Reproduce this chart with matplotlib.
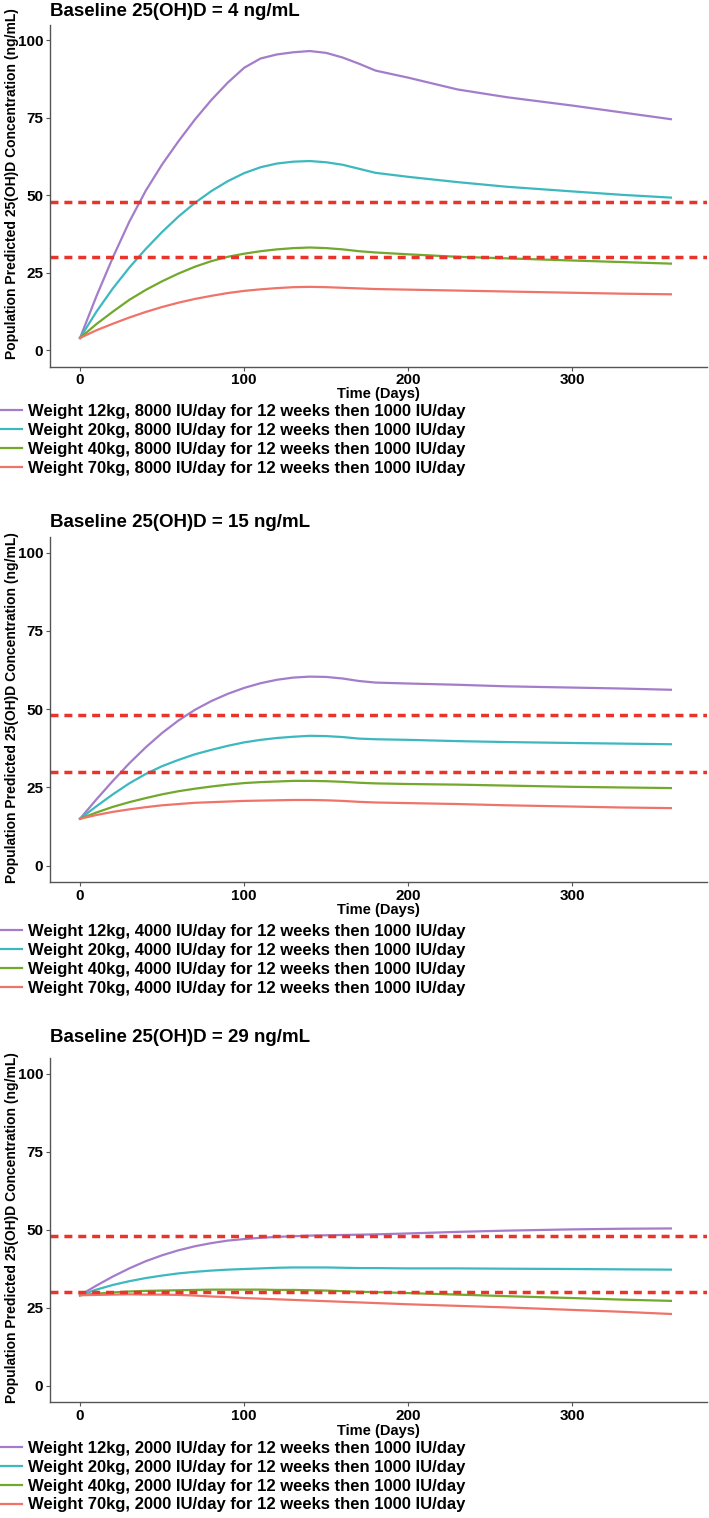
import numpy as np
import matplotlib
matplotlib.use("Agg")
import matplotlib.pyplot as plt

plt.rcParams['font.family'] = ['Liberation Sans', 'DejaVu Sans']
plt.rcParams['font.weight'] = 'bold'

# time points (days)
days = [0, 10, 20, 30, 40, 50, 60, 70, 80, 90, 100, 110, 120, 130, 140,
        150, 160, 170, 180, 200, 230, 260, 300, 330, 360]

weights = [12, 20, 40, 70]
loading_doses = [8000, 4000, 2000]
baselines = [4, 15, 29]

# baseline 4 ng/mL, 8000 IU/day
b4_w12 = [4, 17.5, 30, 41.5, 51.5, 60, 67.5, 74.5, 80.8, 86.4, 91.2, 94.2, 95.5, 96.2, 96.6,
          96, 94.5, 92.5, 90.3, 88, 84.2, 81.7, 79, 76.8, 74.6]
b4_w20 = [4, 12.5, 20, 26.7, 32.7, 38.2, 43.2, 47.6, 51.4, 54.6, 57.2, 59.1, 60.3, 60.9, 61.1,
          60.7, 59.9, 58.6, 57.3, 56, 54.3, 52.8, 51.3, 50.2, 49.3]
b4_w40 = [4, 8.5, 12.5, 16.3, 19.5, 22.3, 24.8, 27, 28.8, 30.2, 31.2, 32, 32.6, 33, 33.2,
          33, 32.6, 32, 31.6, 31, 30.2, 29.7, 29, 28.5, 28]
b4_w70 = [4, 6.5, 8.6, 10.6, 12.4, 14, 15.4, 16.6, 17.6, 18.5, 19.2, 19.7, 20.1, 20.4, 20.5,
          20.4, 20.2, 20, 19.8, 19.6, 19.3, 19, 18.6, 18.3, 18.1]

# baseline 15 ng/mL, 4000 IU/day
b15_w12 = [15, 21.2, 27.1, 32.7, 37.8, 42.4, 46.4, 49.8, 52.6, 54.9, 56.8, 58.3, 59.4, 60.1, 60.4,
           60.3, 59.8, 59, 58.5, 58.2, 57.8, 57.3, 56.9, 56.6, 56.2]
b15_w20 = [15, 19, 22.8, 26.3, 29.3, 31.8, 33.8, 35.6, 37, 38.3, 39.4, 40.2, 40.8, 41.2, 41.5,
           41.4, 41.1, 40.6, 40.4, 40.2, 39.8, 39.5, 39.2, 39, 38.8]
b15_w40 = [15, 17, 18.8, 20.3, 21.6, 22.8, 23.8, 24.6, 25.3, 25.9, 26.4, 26.7, 26.9, 27.1, 27.1,
           27, 26.8, 26.5, 26.3, 26.1, 25.9, 25.6, 25.2, 25, 24.8]
b15_w70 = [15, 16.2, 17.2, 18, 18.7, 19.3, 19.7, 20.1, 20.3, 20.5, 20.7, 20.8, 20.9, 21, 21,
           20.9, 20.7, 20.4, 20.2, 20, 19.7, 19.3, 18.9, 18.6, 18.4]

# baseline 29 ng/mL, 2000 IU/day
b29_w12 = [29, 32.1, 35, 37.6, 39.9, 41.8, 43.4, 44.7, 45.7, 46.5, 47, 47.4, 47.7, 47.9, 48.1,
           48.2, 48.3, 48.4, 48.5, 48.8, 49.3, 49.7, 50.1, 50.3, 50.4]
b29_w20 = [29, 30.8, 32.3, 33.5, 34.5, 35.3, 36, 36.5, 36.9, 37.2, 37.4, 37.6, 37.8, 37.9, 37.9,
           37.9, 37.8, 37.7, 37.7, 37.6, 37.6, 37.5, 37.4, 37.3, 37.2]
b29_w40 = [29, 29.5, 29.9, 30.2, 30.4, 30.5, 30.6, 30.7, 30.8, 30.8, 30.8, 30.8, 30.7, 30.7, 30.6,
           30.5, 30.3, 30.1, 30, 29.7, 29.2, 28.7, 28.1, 27.6, 27.2]
b29_w70 = [29, 29.1, 29.2, 29.3, 29.2, 29.2, 29.1, 28.9, 28.6, 28.4, 28.1, 27.9, 27.7, 27.5, 27.3,
           27.1, 26.9, 26.7, 26.5, 26.1, 25.6, 25.1, 24.3, 23.7, 23.0]

targets = [30, 48]

panels = [
    [b4_w12, b4_w20, b4_w40, b4_w70],
    [b15_w12, b15_w20, b15_w40, b15_w70],
    [b29_w12, b29_w20, b29_w40, b29_w70],
]
colors = ['#A47DCA', '#3DB8BF', '#72A82C', '#EE746A']

W, H = 709, 1518
fig = plt.figure(figsize=(W / 100, H / 100), dpi=100)

# pixel positions: (top, bottom) of each panel, then titles / labels / legends
boxes = [(25, 366.5), (537, 882), (1058, 1402)]
title_y = [12, 523, 1038]
ylab_y = [184, 708, 1228]
xlab_y = [394, 910, 1431]
leg_y = [404, 924, 1441]

left, right = 50, 707

for i in range(3):
    top, bot = boxes[i]
    ax = fig.add_axes([left / W, 1 - bot / H, (right - left) / W, (bot - top) / H])
    for j in range(4):
        ax.plot(days, panels[i][j], color=colors[j], lw=1.6,
                label="Weight %dkg, %d IU/day for 12 weeks then 1000 IU/day" % (weights[j], loading_doses[i]))
    for t in targets:
        ax.axhline(t, color='#E8342B', lw=2.5, dashes=(2.3, 1.7))
    ax.set_xlim(-18.3, 382)
    ax.set_ylim(-5.2, 105)
    ax.set_xticks([0, 100, 200, 300])
    ax.set_yticks([0, 25, 50, 75, 100])
    ax.spines['top'].set_visible(False)
    ax.spines['right'].set_visible(False)
    for s in ['left', 'bottom']:
        ax.spines[s].set_color('#555555')
        ax.spines[s].set_linewidth(1.0)
    ax.tick_params(length=3, width=0.8, color='#555555', labelsize=11, pad=2)
    for lab in ax.get_xticklabels() + ax.get_yticklabels():
        lab.set_fontweight('bold')

    fig.text(left / W, 1 - title_y[i] / H, "Baseline 25(OH)D = %d ng/mL" % baselines[i],
             fontsize=13.5, fontweight='bold', va='center', ha='left')
    fig.text(12 / W, 1 - ylab_y[i] / H, "Population Predicted 25(OH)D Concentration (ng/mL)",
             rotation=90, fontsize=10, fontweight='bold', va='center', ha='center')
    fig.text((left + right) / 2 / W, 1 - xlab_y[i] / H, "Time (Days)",
             fontsize=10.5, fontweight='bold', va='center', ha='center')
    leg = ax.legend(loc='upper left', bbox_to_anchor=(0, 1 - leg_y[i] / H),
                    bbox_transform=fig.transFigure, frameon=False, fontsize=12,
                    handlelength=1.3, handletextpad=0.35, labelspacing=0.23,
                    borderaxespad=0, borderpad=0)
    for txt in leg.get_texts():
        txt.set_fontweight('bold')

fig.savefig("out.png", dpi=100)
